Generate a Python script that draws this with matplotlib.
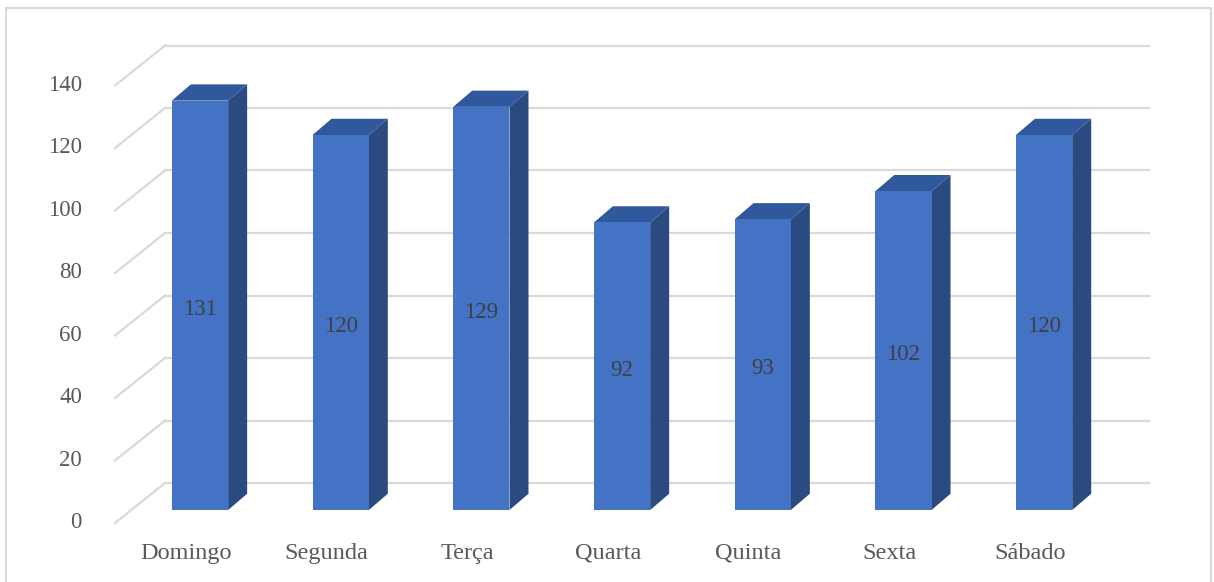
import matplotlib.pyplot as plt
from matplotlib.patches import Polygon, Rectangle

days = ['Domingo', 'Segunda', 'Terça', 'Quarta', 'Quinta', 'Sexta', 'Sábado']
counts = [131, 120, 129, 92, 93, 102, 120]
yticks = [0, 20, 40, 60, 80, 100, 120, 140]

front_col = '#4472C4'
top_col = '#30589C'
side_col = '#2A4A80'
grid_col = '#D9D9D9'
text_col = '#595959'

plt.rcParams['font.family'] = ['Liberation Serif', 'DejaVu Serif']

fig = plt.figure(figsize=(12.14, 5.82), dpi=100)
ax = fig.add_axes([0, 0, 1, 1])
# front plane of bars: 140.67 px per category, 3.125 px per unit
ax.set_xlim(-1.4218, 7.208)
ax.set_ylim(-23.04, 163.2)
ax.axis('off')

# outer frame
fig.patches.append(Rectangle((6 / 1214, -0.01), 1205 / 1214, 1 - 8 / 582 + 0.01,
                             transform=fig.transFigure, fill=False,
                             edgecolor=grid_col, lw=1.5))

# 3d offsets (in data units)
bw = 0.4
dx, dy = 0.135, 5.2
back_x0, back_x1, back_dy = -0.249, 6.746, 8.64
front_x, front_dy = -0.604, -4.16

for t in yticks:
    ax.plot([back_x0, back_x1], [t + back_dy, t + back_dy], color=grid_col, lw=1.6, zorder=1)
    ax.plot([front_x, back_x0], [t + front_dy, t + back_dy], color=grid_col, lw=1.6, zorder=1)
    ax.text(front_x - 0.235, t + front_dy, str(t), ha='right', va='center',
            fontsize=16.5, color=text_col)

xs = list(range(len(days)))
ax.bar(xs, counts, width=bw, color=front_col, zorder=3)
for x, v in zip(xs, counts):
    xl, xr = x - bw / 2, x + bw / 2
    ax.add_patch(Polygon([(xr, 0), (xr + dx, dy), (xr + dx, v + dy), (xr, v)],
                         closed=True, facecolor=side_col, edgecolor='none', zorder=2))
    ax.add_patch(Polygon([(xl, v), (xl + dx, v + dy), (xr + dx, v + dy), (xr, v)],
                         closed=True, facecolor=top_col, edgecolor='none', zorder=2))
    ax.text(x, v / 2 - 1.3, str(v), ha='center', va='center', fontsize=16.5,
            color='#404040', zorder=4)
    ax.text(x - 0.1, -13.8, days[x], ha='center', va='center', fontsize=17.5,
            color=text_col)

fig.savefig('out.png', dpi=100)
